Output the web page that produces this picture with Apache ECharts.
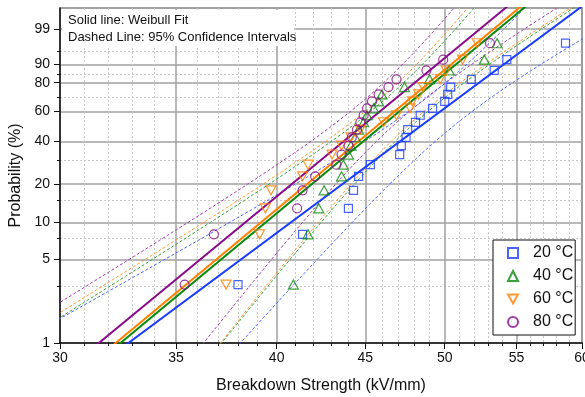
<!DOCTYPE html>
<html>
<head>
<meta charset="utf-8">
<script src="https://cdn.jsdelivr.net/npm/echarts@6.0.0/dist/echarts.min.js"></script>
<style>
  html, body { margin: 0; padding: 0; background: #fff; }
  #chart { width: 585px; height: 397px; }
</style>
</head>
<body>
<div id="chart"></div>
<script>
// Weibull probability plot - breakdown strength at four temperatures
const temps = ['20 °C', '40 °C', '60 °C', '80 °C']
const colors = ['#1a3cff', '#0a8a0a', '#ff8000', '#8a0a8a']
const bandColors = ['#4d66ff', '#3aa03a', '#ff9a3a', '#a040b0']
const symbols = ['rect', 'triangle', 'triangle', 'circle']
const legendIcons = ['rect', 'triangle', 'path://M0,0 L10,0 L5,9 Z', 'circle']

// plotting positions (%), 20 specimens per temperature
const probs = [3.09, 8.02, 12.96, 17.90, 22.84, 27.78, 32.72, 37.65, 42.59, 47.53,
  52.47, 57.41, 62.35, 67.28, 72.22, 77.16, 82.10, 87.04, 91.98, 96.91]

// breakdown strength (kV/mm), sorted
const kv20 = [38.0, 41.4, 44.0, 44.3, 44.6, 45.3, 47.1, 47.2, 47.5, 47.6,
  48.1, 48.4, 49.2, 50.0, 50.2, 50.4, 51.8, 53.4, 54.3, 58.7]
const kv40 = [40.9, 41.7, 42.3, 42.6, 43.6, 43.7, 44.0, 44.15, 44.4, 44.6,
  44.9, 45.1, 45.5, 45.8, 46.0, 47.4, 49.0, 50.3, 52.7, 53.6]
const kv60 = [37.4, 39.1, 39.4, 39.7, 41.4, 41.7, 43.05, 43.6, 44.15, 44.7,
  46.1, 46.9, 47.75, 47.9, 48.3, 48.6, 49.7, 50.1, 51.2, 52.2]
const kv80 = [35.4, 36.8, 41.1, 41.4, 42.1, 43.3, 43.6, 44.0, 44.2, 44.5,
  44.7, 44.9, 45.1, 45.4, 45.8, 46.4, 46.9, 48.8, 49.9, 53.1]
const kvs = [kv20, kv40, kv60, kv80]

// Weibull fit (shape, scale) and 95% CI half-width in ln(E): sqrt(c^2 + (d*W)^2)
const beta = [10.9, 12.2, 12.2, 12.1]
const eta = [50.1, 47.4, 47.1, 46.2]
const ciC = [0.042, 0.038, 0.039, 0.039]
const ciD = [0.031, 0.028, 0.029, 0.029]

const xMajor = [30, 35, 40, 45, 50, 55, 60]
const xMinor = [31, 32, 33, 34, 36, 37, 38, 39, 41, 42, 43, 44, 46, 47, 48, 49, 51, 52, 53, 54, 56, 57, 58, 59]
const yMajor = [1, 5, 10, 20, 40, 60, 80, 90, 99]
const yMinor = [3, 7.5, 15, 30, 70, 85, 95]

const wb = p => Math.log(-Math.log(1 - p / 100))
const xMin = Math.log(30), xMax = Math.log(60)
const yMin = wb(1), yMax = wb(99.9)

const series = []
temps.forEach((t, i) => {
  const u0 = Math.log(eta[i])
  const lo = [], hi = []
  for (let w = -6; w <= 3.001; w += 0.1) {
    const u = u0 + w / beta[i]
    const d = Math.sqrt(ciC[i] * ciC[i] + ciD[i] * ciD[i] * w * w)
    lo.push([u - d, w])
    hi.push([u + d, w])
  }
  ;[lo, hi].forEach(b => series.push({
    type: 'line', data: b, showSymbol: false, silent: true, z: 2,
    lineStyle: { color: bandColors[i], width: 1, type: [3, 2] },
  }))
})
temps.forEach((t, i) => {
  const u0 = Math.log(eta[i])
  series.push({
    type: 'line', showSymbol: false, silent: true, z: 3,
    data: [[u0 - 6 / beta[i], -6], [u0 + 3 / beta[i], 3]],
    lineStyle: { color: colors[i], width: 2 },
  })
})
temps.forEach((t, i) => {
  series.push({
    name: t, type: 'scatter', z: 4,
    symbol: symbols[i],
    symbolSize: i === 0 ? 8 : (i === 3 ? 9 : [10, 9]),
    symbolRotate: i === 2 ? 180 : 0,
    itemStyle: { color: 'rgba(0,0,0,0)', borderColor: colors[i], borderWidth: 1.2 },
    data: kvs[i].map((v, j) => [Math.log(v), wb(probs[j])]),
  })
})

const fmtP = v => {
  const p = 100 * (1 - Math.exp(-Math.exp(v)))
  return String(Math.round(p * 10) / 10)
}

const chart = echarts.init(document.getElementById('chart'))
chart.setOption({
  animation: false,
  textStyle: { fontFamily: 'Liberation Sans, Arial, sans-serif' },
  grid: {
    left: 60, right: 3, top: 8, bottom: 54, outerBoundsMode: 'none',
    show: true, borderColor: '#444', borderWidth: 1.2,
  },
  xAxis: [
    {
      type: 'value', min: xMin, max: xMax,
      name: 'Breakdown Strength (kV/mm)', nameLocation: 'middle', nameGap: 35,
      nameTextStyle: { fontSize: 16, color: '#111' },
      axisLine: { onZero: false, lineStyle: { color: '#111', width: 1.5 } },
      axisTick: { customValues: xMajor.map(Math.log), length: 6, lineStyle: { color: '#111' } },
      axisLabel: { customValues: xMajor.map(Math.log), fontSize: 14, color: '#111', margin: 8,
        formatter: v => String(Math.round(Math.exp(v))) },
      splitLine: { show: true, lineStyle: { color: '#a0a0a0', width: 1.5 } },
    },
    {
      type: 'value', min: xMin, max: xMax, position: 'bottom',
      axisLine: { show: false, onZero: false },
      axisTick: { customValues: xMinor.map(Math.log), length: 3, lineStyle: { color: '#111' } },
      axisLabel: { show: false },
      splitLine: { show: true, lineStyle: { color: '#c8c8c8', width: 1, type: [2, 2] } },
    },
  ],
  yAxis: [
    {
      type: 'value', min: yMin, max: yMax,
      name: 'Probability (%)', nameLocation: 'middle', nameGap: 28,
      nameTextStyle: { fontSize: 16, color: '#111' },
      axisLine: { show: true, onZero: false, lineStyle: { color: '#111', width: 1.5 } },
      axisTick: { show: true, customValues: yMajor.map(wb), length: 6, lineStyle: { color: '#111' } },
      axisLabel: { customValues: yMajor.map(wb), fontSize: 14, color: '#111', margin: 10, formatter: fmtP },
      splitLine: { show: true, lineStyle: { color: '#a0a0a0', width: 1.5 } },
    },
    {
      type: 'value', min: yMin, max: yMax, position: 'left',
      axisLine: { show: false, onZero: false },
      axisTick: { show: true, customValues: yMinor.map(wb), length: 3, lineStyle: { color: '#111' } },
      axisLabel: { show: false },
      splitLine: { show: true, lineStyle: { color: '#c8c8c8', width: 1, type: [2, 2] } },
    },
  ],
  legend: {
    data: temps.map((t, i) => ({ name: t, icon: legendIcons[i] })),
    orient: 'vertical', left: 493, top: 240,
    padding: [5, 2, 5, 14], itemGap: 7, itemWidth: 10, itemHeight: 10,
    backgroundColor: '#fff', borderColor: '#111', borderWidth: 1,
    textStyle: { fontSize: 16, color: '#111', padding: [0, 0, 0, 10] },
  },
  graphic: [
    { type: 'rect', z: 10, shape: { x: 62, y: 10, width: 232, height: 36 }, style: { fill: '#fff' } },
    { type: 'text', z: 11, left: 68, top: 14, style: { text: 'Solid line: Weibull Fit', fontSize: 13, fill: '#111', fontFamily: 'Liberation Sans, Arial' } },
    { type: 'text', z: 11, left: 68, top: 31, style: { text: 'Dashed Line: 95% Confidence Intervals', fontSize: 13, fill: '#111', fontFamily: 'Liberation Sans, Arial' } },
  ],
  series,
})
</script>
</body>
</html>
